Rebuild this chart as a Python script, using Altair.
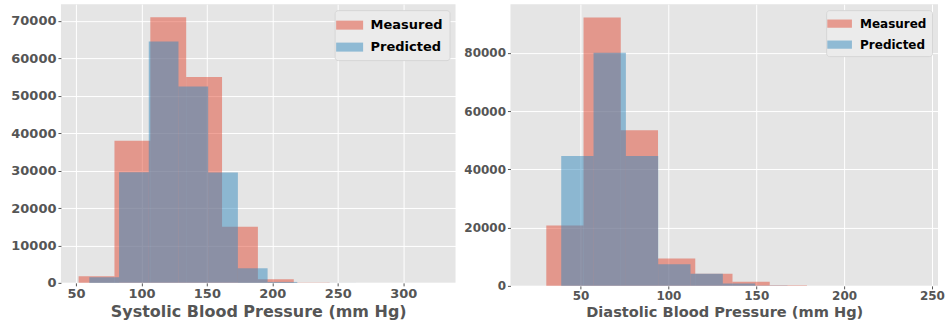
import altair as alt
import pandas as pd

series_names = ["Measured", "Predicted"]
series_colors = ["#E24A33", "#348ABD"]

# Systolic histogram (10 bins each)
sys_meas_edges = [52.0, 79.4, 106.8, 134.2, 161.6, 189.0, 216.4, 243.8, 271.2, 298.6, 326.0]
sys_meas_counts = [1800, 38000, 71000, 55000, 15000, 1000, 120, 40, 15, 8]
sys_pred_edges = [60.2, 82.9, 105.6, 128.3, 151.0, 173.7, 196.4, 219.1, 241.8, 264.5, 287.2]
sys_pred_counts = [1500, 29600, 64500, 52500, 29500, 3900, 250, 30, 10, 5]

# Diastolic histogram (10 bins each)
dia_meas_edges = [30.5, 51.7, 72.9, 94.1, 115.3, 136.5, 157.7, 178.9, 200.1, 221.3, 242.5]
dia_meas_counts = [20700, 92100, 53400, 9400, 4200, 1400, 200, 30, 10, 5]
dia_pred_edges = [39.0, 57.4, 75.8, 94.2, 112.6, 131.0, 149.4, 167.8, 186.2, 204.6, 223.0]
dia_pred_counts = [44600, 80000, 44600, 7400, 4200, 800, 150, 20, 5, 2]

sys_ticks = [50, 100, 150, 200, 250, 300]
sys_yticks = [0, 10000, 20000, 30000, 40000, 50000, 60000, 70000]
dia_ticks = [50, 100, 150, 200, 250]
dia_yticks = [0, 20000, 40000, 60000, 80000]


def table(meas_edges, meas_counts, pred_edges, pred_counts):
    rows = []
    for name, edges, counts in [("Measured", meas_edges, meas_counts),
                                ("Predicted", pred_edges, pred_counts)]:
        for i, c in enumerate(counts):
            rows.append({"series": name, "start": edges[i], "end": edges[i + 1],
                         "base": 0, "count": c})
    return pd.DataFrame(rows)


def panel(df, xdom, ydom, xticks, yticks, title, w, h, lab, tit, leg, sym, pad):
    return alt.Chart(df).mark_rect(opacity=0.5, strokeWidth=0).encode(
        x=alt.X("start:Q", scale=alt.Scale(domain=xdom, nice=False, zero=False),
                axis=alt.Axis(values=xticks, title=title, format="d",
                              labelFontSize=lab, titleFontSize=tit)),
        x2="end:Q",
        y=alt.Y("count:Q", stack=None, scale=alt.Scale(domain=ydom, nice=False),
                axis=alt.Axis(values=yticks, title=None, format="d", labelFontSize=lab)),
        y2="base:Q",
        color=alt.Color("series:N",
                        scale=alt.Scale(domain=series_names, range=series_colors),
                        legend=alt.Legend(title=None, orient="top-right", offset=6,
                                          labelFontSize=leg, symbolSize=sym, padding=pad)),
    ).properties(width=w, height=h)


left = panel(table(sys_meas_edges, sys_meas_counts, sys_pred_edges, sys_pred_counts),
             [38.5, 340.0], [0, 74500], sys_ticks, sys_yticks,
             "Systolic Blood Pressure (mm Hg)", 395, 279, 13, 16, 13, 324, 6)
right = panel(table(dia_meas_edges, dia_meas_counts, dia_pred_edges, dia_pred_counts),
              [10.1, 253.5], [0, 96700], dia_ticks, dia_yticks,
              "Diastolic Blood Pressure (mm Hg)", 428, 282, 12, 14.6, 12, 270, 5)

chart = alt.hconcat(left, right, spacing=8).resolve_scale(color="independent").resolve_legend(
    color="independent"
).properties(
    padding={"left": 10, "top": 4, "right": 5, "bottom": 0},
    background="white",
).configure_view(
    fill="#E5E5E5", stroke=None
).configure_axis(
    grid=True, gridColor="white", gridWidth=1, gridOpacity=1,
    domain=False, ticks=True, tickColor="#555555", tickSize=3, tickWidth=1,
    labelFont="DejaVu Sans", labelFontWeight="bold", labelColor="#555555",
    labelPadding=2,
    titleFont="DejaVu Sans", titleFontWeight="bold", titleColor="#555555",
    titlePadding=3,
).configure_legend(
    fillColor="#EBEBEB", strokeColor="#D6D6D6", cornerRadius=3,
    labelFont="DejaVu Sans", labelFontWeight="bold", labelColor="black",
    symbolType="M-1.5,-0.5H1.5V0.5H-1.5Z", symbolOpacity=0.5,
    symbolStrokeWidth=0, labelOffset=12, rowPadding=6,
)

chart.save("out.html", embed_options={"renderer": "svg", "actions": False})
